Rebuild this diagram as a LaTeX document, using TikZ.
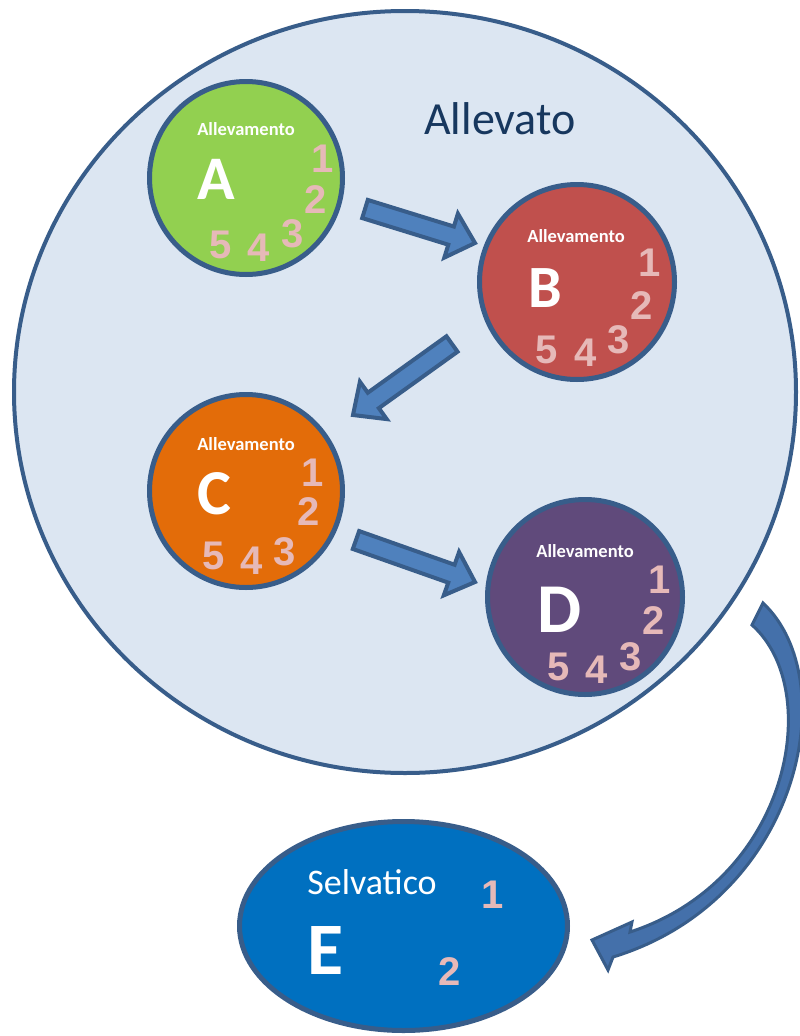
\documentclass[tikz,border=0pt]{standalone}
\usepackage{fontspec}
\setmainfont{Carlito}
\newfontfamily\numfont{Liberation Sans Bold}
\usetikzlibrary{calc,shapes.geometric}
\definecolor{bigfill}{HTML}{DCE6F2}
\definecolor{ringline}{HTML}{385D8A}
\definecolor{greenA}{HTML}{92D050}
\definecolor{redB}{HTML}{C0504D}
\definecolor{orangeC}{HTML}{E36C09}
\definecolor{purpleD}{HTML}{604A7B}
\definecolor{blueE}{HTML}{0070C0}
\definecolor{pinknum}{HTML}{E6B9B8}
\definecolor{navytxt}{HTML}{17375E}
\definecolor{arrowfill}{HTML}{4F81BD}
\definecolor{curvefill}{HTML}{4470AA}
\definecolor{arrowline}{HTML}{385D8A}
\newcommand\myblockarrow[2]{%
  \coordinate (#1-hb) at ($(#2)!25pt!(#1)$);
  \path[blockarr] ($(#1)!9.5pt!90:(#2)$) -- ($(#1-hb)!9.5pt!90:(#2)$)
    -- ($(#1-hb)!23pt!90:(#2)$) -- (#2) -- ($(#1-hb)!23pt!-90:(#2)$)
    -- ($(#1-hb)!9.5pt!-90:(#2)$) -- ($(#1)!9.5pt!-90:(#2)$) -- cycle;}
\begin{document}
\begin{tikzpicture}[x=1pt,y=-1pt,
  ring/.style={circle, draw=ringline, line width=5pt, inner sep=0pt, minimum size=#1},
  ring/.default=193pt,
  ttl/.style={font=\fontsize{18.5}{18.5}\selectfont\bfseries, text=white, inner sep=0pt},
  letter/.style={font=\fontsize{#1}{#1}\selectfont\bfseries, text=white, inner sep=0pt},
  num/.style={font=\numfont\fontsize{40}{40}\selectfont, text=pinknum, inner sep=0pt},
  blockarr/.style={draw=arrowline, fill=arrowfill, line width=4pt, line join=miter}]
\useasboundingbox (0,0) rectangle (800,1036);
\clip (0,0) rectangle (800,1036);
\fill[white] (0,0) rectangle (800,1036);

% big container
\node[ellipse, draw=ringline, fill=bigfill, line width=4pt, inner sep=0pt,
      minimum width=782pt, minimum height=762pt] (allev) at (405,392) {};
\node[font=\fontsize{46}{46}\selectfont, text=navytxt, inner sep=0pt] (allevtxt) at (500,119) {Allevato};

% farm A
\node[ring, fill=greenA] (A) at (246,178) {};
\node[ttl] (A-t) at (246,129) {Allevamento};
\node[letter=62] (A-l) at (216,179) {A};
\node[num] (A-1) at (323,159) {1};
\node[num] (A-2) at (316,200) {2};
\node[num] (A-3) at (293,234) {3};
\node[num] (A-4) at (259,248) {4};
\node[num] (A-5) at (221,245) {5};

% farm B
\node[ring=195pt, fill=redB] (B) at (577,282) {};
\node[ttl] (B-t) at (576,236) {Allevamento};
\node[letter=60] (B-l) at (545,288) {B};
\node[num] (B-1) at (650,263) {1};
\node[num] (B-2) at (642,306) {2};
\node[num] (B-3) at (619,340) {3};
\node[num] (B-4) at (586,353) {4};
\node[num] (B-5) at (547,350) {5};

% farm C
\node[ring, fill=orangeC] (C) at (246,491) {};
\node[ttl] (C-t) at (246,444) {Allevamento};
\node[letter=64] (C-l) at (214,494) {C};
\node[num] (C-1) at (313,473) {1};
\node[num] (C-2) at (309,512) {2};
\node[num] (C-3) at (285,552) {3};
\node[num] (C-4) at (252,561) {4};
\node[num] (C-5) at (214,556) {5};

% farm D
\node[ring=195pt, fill=purpleD] (D) at (585,597) {};
\node[ttl] (D-t) at (585,551) {Allevamento};
\node[letter=70] (D-l) at (560,610) {D};
\node[num] (D-1) at (660,580) {1};
\node[num] (D-2) at (654,621) {2};
\node[num] (D-3) at (631,657) {3};
\node[num] (D-4) at (597,670) {4};
\node[num] (D-5) at (559,667) {5};

% wild E
\node[ellipse, draw=ringline, fill=blueE, line width=5pt, inner sep=0pt,
      minimum width=328pt, minimum height=209pt] (E) at (403.5,926) {};
\node[font=\fontsize{36}{36}\selectfont, text=white, inner sep=0pt] (E-t) at (372,882) {Selvatico};
\node[letter=74] (E-l) at (326,950) {E};
\node[num] (E-1) at (493,895) {1};
\node[num] (E-2) at (450,972) {2};

% straight block arrows
\coordinate (ab-s) at (365,209); \coordinate (ab-e) at (475,243);
\coordinate (bc-s) at (452,344); \coordinate (bc-e) at (353,415);
\coordinate (cd-s) at (356,540); \coordinate (cd-e) at (475,582);
\myblockarrow{ab-s}{ab-e}
\myblockarrow{bc-s}{bc-e}
\myblockarrow{cd-s}{cd-e}

% curved arrow D -> E
\coordinate (de-t1) at (763,603);
\coordinate (de-t2) at (752,625);
\coordinate (de-tip) at (592,940);
\path[draw=arrowline, fill=curvefill, line width=3pt, line join=miter]
  (de-t1) .. controls (845,680) and (800,900) .. (613,957)
  -- (608,970) -- (de-tip) -- (632,922) -- (630,932)
  .. controls (790,880) and (825,690) .. (de-t2) -- cycle;
\end{tikzpicture}
\end{document}
